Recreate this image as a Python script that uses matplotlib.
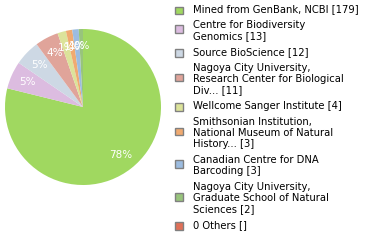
import matplotlib.pyplot as plt
from matplotlib.patches import Rectangle

labels = ['Mined from GenBank, NCBI [179]',
          'Centre for Biodiversity\nGenomics [13]',
          'Source BioScience [12]',
          'Nagoya City University,\nResearch Center for Biological\nDiv... [11]',
          'Wellcome Sanger Institute [4]',
          'Smithsonian Institution,\nNational Museum of Natural\nHistory... [3]',
          'Canadian Centre for DNA\nBarcoding [3]',
          'Nagoya City University,\nGraduate School of Natural\nSciences [2]',
          '0 Others []']
counts = [179, 13, 12, 11, 4, 3, 3, 2]
colors = ['#a0d860', '#dcbce0', '#cdd8e4', '#e0a49a', '#dce39a',
          '#f0aa70', '#9cbce0', '#98c47c', '#e07058']

fig = plt.figure(figsize=(3.8, 2.4), dpi=100)
ax = fig.add_axes([5/380, 55/240, 156/380, 156/240])
ax.pie(counts, colors=colors[:len(counts)], startangle=90, counterclock=False,
       autopct=lambda p: f'{int(p)}%', pctdistance=0.78,
       wedgeprops=dict(linewidth=0),
       textprops=dict(color='white', fontsize=7.5))
ax.set_xlim(-1, 1)
ax.set_ylim(-1, 1)
ax.set_aspect('equal')
ax.axis('off')

# legend drawn by hand, one block per entry
W, H = 380, 240
y = 10
lh = 11.2
for lab, col in zip(labels, colors):
    n = lab.count('\n') + 1
    top = y - lh / 2
    mid = top + n * lh / 2
    sq = mid - (2.5 if n > 1 else 0)
    fig.patches.append(Rectangle((175 / W, 1 - (sq + 4) / H), 7.5 / W, 7.5 / H,
                                 transform=fig.transFigure, facecolor=col,
                                 edgecolor='#808080', linewidth=1))
    fig.text(193 / W, 1 - top / H, lab, fontsize=7.2, va='top', ha='left',
             linespacing=1.12, color='black')
    y += n * lh + 4.6

fig.savefig('out.png', dpi=100)
